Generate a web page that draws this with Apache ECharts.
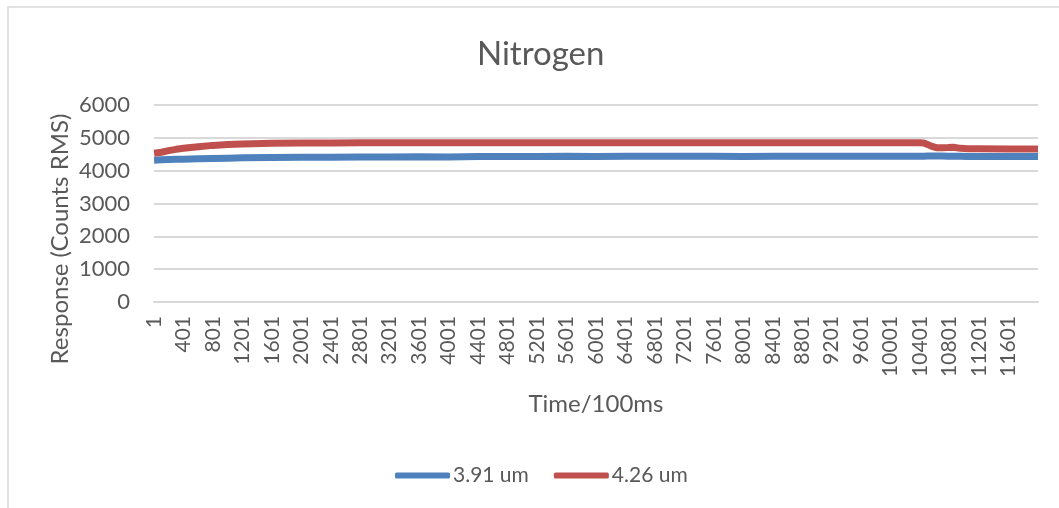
<!DOCTYPE html>
<html>
<head>
<meta charset="utf-8">
<script src="https://cdn.jsdelivr.net/npm/echarts@6/dist/echarts.min.js"></script>
<style>
html,body{margin:0;padding:0;background:#ffffff;}
#chart{width:1059px;height:508px;}
</style>
</head>
<body>
<div id="chart"></div>
<script>
// sample times (x, in 100 ms steps)
const times = [1, 100, 200, 300, 400, 600, 800, 1000, 1200, 1600, 2000, 2400, 2800, 3200, 3600, 4000, 4400, 4800, 5200, 5600, 6000, 6400, 6800, 7200, 7600, 8000, 8400, 8800, 9200, 9600, 10000, 10400, 10450, 10500, 10560, 10620, 10700, 10780, 10850, 10950, 11050, 11200, 11600, 12000];
// 3.91 um response
const series391 = [4320, 4330, 4340, 4345, 4350, 4360, 4370, 4380, 4390, 4400, 4405, 4410, 4415, 4420, 4425, 4420, 4430, 4430, 4435, 4440, 4435, 4440, 4440, 4440, 4440, 4435, 4440, 4440, 4440, 4440, 4440, 4440, 4440, 4445, 4445, 4450, 4445, 4440, 4440, 4440, 4435, 4435, 4430, 4430];
// 4.26 um response
const series426 = [4530, 4560, 4610, 4650, 4680, 4730, 4770, 4795, 4815, 4835, 4840, 4845, 4848, 4850, 4850, 4850, 4850, 4850, 4850, 4850, 4850, 4850, 4850, 4850, 4850, 4850, 4850, 4850, 4850, 4850, 4850, 4850, 4845, 4800, 4740, 4700, 4695, 4705, 4715, 4680, 4665, 4665, 4660, 4660];
// x-axis tick labels
const xTickLabels = ['1','401','801','1201','1601','2001','2401','2801','3201','3601','4001','4401','4801','5201','5601','6001','6401','6801','7201','7601','8001','8401','8801','9201','9601','10001','10401','10801','11201','11601'];
const seriesNames = ['3.91 um', '4.26 um'];

const FONT = 'Lato';
const TXT = '#595959';
const GRID = '#d9d9d9';

const chart = echarts.init(document.getElementById('chart'), null, {renderer: 'canvas'});
chart.setOption({
  animation: false,
  backgroundColor: '#ffffff',
  title: {
    text: 'Nitrogen',
    left: 472, top: 33,
    textStyle: {fontFamily: FONT, fontSize: 33, fontWeight: 'normal', color: TXT}
  },
  grid: {left: 154, right: 21, top: 105, bottom: 206, containLabel: false},
  xAxis: {
    type: 'value', min: 0, max: 12000, interval: 400,
    axisLine: {show: true, lineStyle: {color: GRID, width: 2}},
    axisTick: {show: false},
    splitLine: {show: false},
    axisLabel: {
      rotate: 90, margin: 14, fontFamily: FONT, fontSize: 21, color: TXT,
      showMaxLabel: false,
      formatter: function (v) { const k = Math.round(v / 400); return xTickLabels[k] !== undefined ? xTickLabels[k] : ''; }
    }
  },
  yAxis: {
    type: 'value', min: 0, max: 6000, interval: 1000,
    axisLine: {show: false}, axisTick: {show: false},
    splitLine: {show: true, lineStyle: {color: GRID, width: 2}},
    axisLabel: {margin: 24, fontFamily: FONT, fontSize: 22, color: TXT,
      formatter: function (v) { return String(v); }}
  },
  legend: {
    data: seriesNames,
    left: 390, top: 460,
    icon: 'roundRect', itemWidth: 55, itemHeight: 6, itemGap: 25,
    itemStyle: {borderWidth: 0},
    textStyle: {fontFamily: FONT, fontSize: 21, color: TXT, padding: [0, 0, 0, -2]}
  },
  graphic: [
    {type: 'rect', silent: true, shape: {x: 8, y: 7, width: 1200, height: 700},
     style: {fill: 'none', stroke: '#d9d9d9', lineWidth: 1.5}},
    {type: 'text', x: 60, y: 239, rotation: Math.PI / 2,
     style: {text: 'Response (Counts RMS)', fontFamily: FONT, fontSize: 24, fill: TXT, align: 'center', verticalAlign: 'middle'}},
    {type: 'text', x: 596, y: 404,
     style: {text: 'Time/100ms', fontFamily: FONT, fontSize: 24, fill: TXT, align: 'center', verticalAlign: 'middle'}}
  ],
  series: [
    {name: seriesNames[0], type: 'line', showSymbol: false, symbol: 'none',
     data: times.map((t, i) => [t, series391[i]]),
     lineStyle: {color: '#4F81BD', width: 7}, itemStyle: {color: '#4F81BD'}},
    {name: seriesNames[1], type: 'line', showSymbol: false, symbol: 'none',
     data: times.map((t, i) => [t, series426[i]]),
     lineStyle: {color: '#C0504D', width: 7}, itemStyle: {color: '#C0504D'}}
  ]
});
</script>
</body>
</html>
